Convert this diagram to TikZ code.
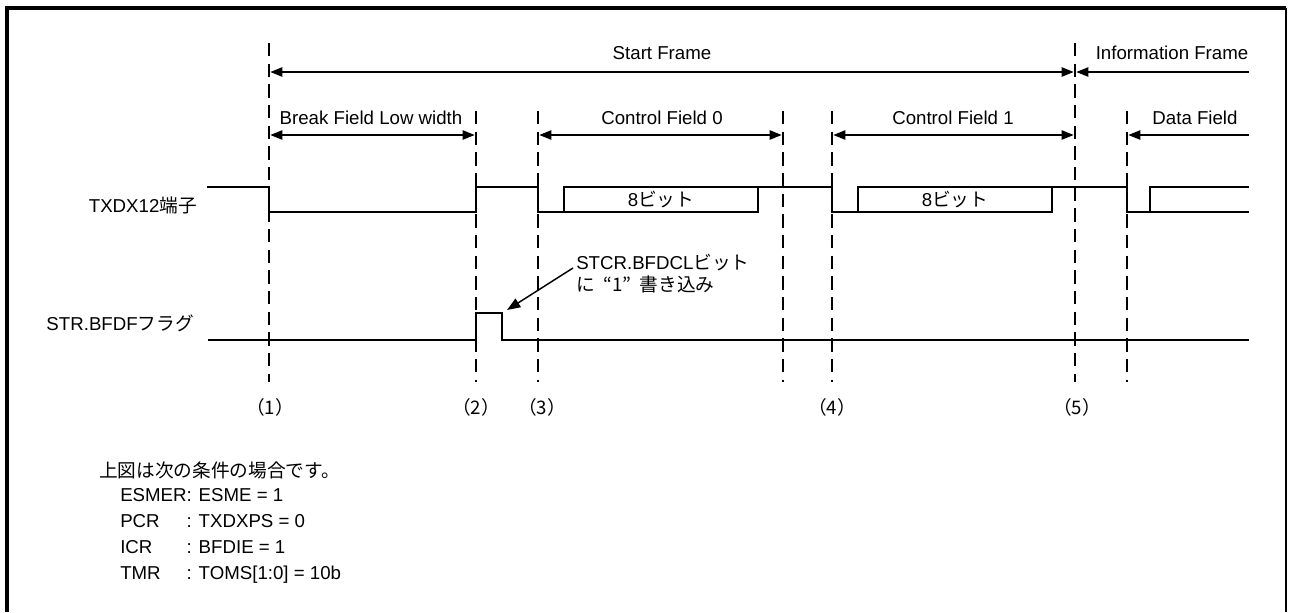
\documentclass[tikz,border=0pt]{standalone}
\usepackage{fontspec}
\setmainfont{Liberation Sans}
\newfontfamily\jpfont{Noto Sans CJK JP}
\newcommand{\jtext}[1]{{\jpfont #1}}
\usetikzlibrary{arrows.meta,positioning,calc}

\begin{document}
\begin{tikzpicture}[
  x=0.75pt, y=-0.75pt,
  font=\fontsize{14}{17}\selectfont,
  >={Triangle[length=9pt,width=7pt]},
  cutline/.style={line width=2.2pt, dash pattern=on 10pt off 5.5pt},
  sig/.style={line width=1.2pt},
  dimline/.style={line width=1.1pt, shorten >=1pt, shorten <=1pt},
  lbl/.style={inner sep=0pt, anchor=base}
]
\useasboundingbox (0,0) rectangle (1290,612);
% frame
\draw[line width=2.5pt] (7,612) -- (7,8) -- (1286,8);
\draw[line width=1.6pt] (1286,8) -- (1286,612);

% timing marks
\foreach \n/\x/\t in {1/269/43, 2/476/111, 3/538/111, 4/783/111, 5/832/111, 6/1075/43, 7/1127/111}
{
  \coordinate (top\n) at (\x,\t);
  \coordinate (bot\n) at (\x,382);
  \draw[cutline] (top\n) -- (bot\n);
}
\coordinate (rowF) at (0,72);
\coordinate (rowS) at (0,135);
\coordinate (edgeR) at (1250,0);

% frame / field spans
\draw[dimline,<->] (top1 |- rowF) -- (top6 |- rowF);
\draw[dimline,->] (edgeR |- rowF) -- (top6 |- rowF);
\draw[dimline,<->] (top1 |- rowS) -- (top2 |- rowS);
\draw[dimline,<->] (top3 |- rowS) -- (top4 |- rowS);
\draw[dimline,<->] (top5 |- rowS) -- (top6 |- rowS);
\draw[dimline,->] (edgeR |- rowS) -- (top7 |- rowS);

\node[lbl] (sf)  at (662,59)   {Start Frame};
\node[lbl] (inf) at (1172,59)  {Information Frame};
\node[lbl] (bf)  at (371,124)  {Break Field Low width};
\node[lbl] (cf0) at (662,124)  {Control Field 0};
\node[lbl] (cf1) at (953,124)  {Control Field 1};
\node[lbl] (df)  at (1195,124) {Data Field};

% TXDX12 pin
\node[lbl, anchor=base east] (txd) at (197,212) {TXDX12\jtext{端子}};
\draw[sig] (207,187) -| (269,212) -| (476,187) -| (538,212) -| (758,187);
\draw[sig] (564,212) |- (832,187) |- (1052,212) -- (1052,187);
\draw[sig] (858,212) |- (1127,187) |- (1249,212);
\draw[sig] (1150,212) |- (1249,187);
\node[lbl] (byte0) at (661,206) {8\jtext{ビット}};
\node[lbl] (byte1) at (955,206) {8\jtext{ビット}};

% STR.BFDF flag
\node[lbl, anchor=base east] (bfdf) at (194,330) {STR.BFDF\jtext{フラグ}};
\draw[sig] (208,340) -| (476,313) -| (502,340) -- (1249,340);
\node[lbl, anchor=west, align=left, font=\fontsize{14}{16.5}\selectfont] (clr) at (576,274)
  {STCR.BFDCL\jtext{ビット}\\\jtext{に\hspace{0.45em}“1”\hspace{0.45em}書き込み}};
\coordinate (clrtip) at (507,310);
\draw[line width=1.1pt, -{Triangle[length=10pt,width=7.5pt]}] ($(clr.west)+(-3,-6)$) -- (clrtip);

% points
\foreach \n/\x in {1/270, 2/476, 3/542, 4/832, 5/1077}
  \node[lbl] (pos\n) at (\x,414) {\jtext{（\n）}};

% conditions
\node[lbl, anchor=base west] (cond) at (99,477) {\jtext{上図は次の条件の場合です。}};
\foreach \rname/\rval [count=\i] in {ESMER/ESME = 1, PCR/TXDXPS = 0, ICR/BFDIE = 1, TMR/TOMS[1:0] = 10b}
  \node[lbl, anchor=base west] (reg\i) at (120,{475+26*\i}) {\rlap{\rname}\phantom{ESMER}: \rval};
\end{tikzpicture}
\end{document}
